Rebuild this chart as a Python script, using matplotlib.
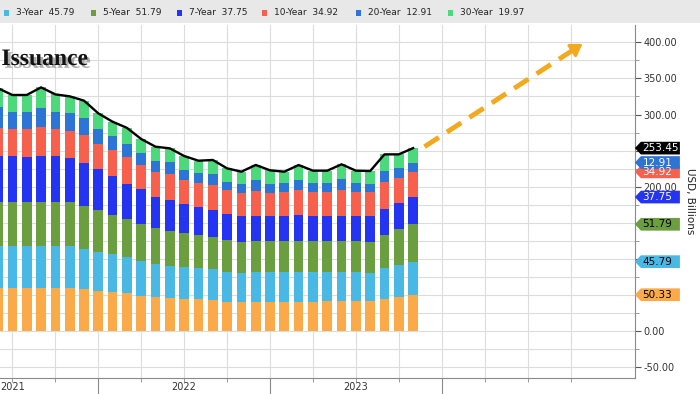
import matplotlib
matplotlib.use("Agg")
import matplotlib.pyplot as plt
import matplotlib.transforms as mtransforms
import matplotlib.patheffects as pe
from matplotlib.patches import Polygon, Rectangle
import numpy as np

# months counted from Jan 2021 (0); bars from Jun 2021 to Nov 2023
months = list(range(5, 35))

y2 = [60, 60, 60, 60, 60, 59.1, 57.7, 55.9, 53.6, 52.2, 48.5, 46.7, 46.2, 44.3, 43.9,
      43.0, 40.6, 40.6, 40.6, 40.6, 40.6, 40.6, 40.6, 41.6, 41.6, 41.6, 41.6, 43.9, 46.7, 50.33]
y3 = [58.2, 58.2, 58.2, 58.2, 58.2, 58.2, 55.9, 54.0, 53.1, 50.8, 49.0, 46.1, 44.3, 44.8, 43.9,
      42.5, 41.2, 40.2, 41.6, 40.7, 40.7, 40.7, 40.7, 40.6, 39.7, 39.7, 39.2, 42.9, 44.8, 45.79]
y5 = [61, 61, 61, 61, 61, 61, 59.6, 57.8, 54.0, 51.7, 50.8, 49.5, 48.5, 47.2, 45.2,
      44.3, 44.3, 43.0, 43.0, 43.0, 43.4, 43.4, 43.4, 43.0, 43.4, 43.4, 43.0, 46.2, 49.4, 51.79]
y7 = [62.8, 62.8, 62.0, 62.8, 62.8, 61.4, 59.1, 56.3, 54.1, 49.2, 48.0, 43.8, 42.6, 39.7, 38.4,
      37.9, 36.0, 35.6, 34.2, 35.6, 35.1, 35.6, 35.1, 34.6, 35.1, 35.1, 35.6, 35.6, 36.9, 37.75]
y10 = [38.8, 37.9, 38.8, 41.1, 37.9, 37.9, 39.3, 35.1, 36.0, 37.0, 33.7, 33.8, 36.0, 33.2, 34.1,
       34.6, 33.3, 32.3, 35.1, 31.4, 32.3, 35.1, 32.3, 33.3, 35.6, 32.3, 32.7, 38.3, 34.7, 34.92]
y20 = [29.1, 23.1, 23.1, 26.3, 23.1, 24.5, 23.1, 20.8, 19.9, 18.9, 16.2, 16.1, 17.0, 13.9, 13.0,
       15.3, 10.6, 11.5, 14.8, 12.9, 12.5, 13.8, 12.5, 11.5, 15.2, 12.5, 11.6, 15.3, 13.8, 12.91]
y30 = [26.4, 24.0, 24.0, 28.2, 24.9, 23.1, 24.5, 21.7, 19.3, 21.7, 19.8, 19.4, 18.5, 19.4, 17.5,
       19.4, 19.4, 17.6, 20.8, 18.5, 16.2, 20.8, 17.6, 17.6, 20.4, 17.6, 18.0, 22.6, 18.5, 19.97]
total_last = 253.45  # last value shown in the black tag

names = ["2-Year", "3-Year", "5-Year", "7-Year", "10-Year", "20-Year", "30-Year"]
series = [y2, y3, y5, y7, y10, y20, y30]
colors = ["#FBAA49", "#4AB8E4", "#6A9E3E", "#2434F0", "#F6604C", "#2C74D6", "#4CD97C"]
tag_text = ["black", "black", "black", "white", "white", "white", "white"]

year_labels = ["2021", "2022", "2023"]
year_mid = [6, 18, 30]
y_ticks = np.arange(-50, 401, 50)
hidden_ticks = [50, 100, 150, 250]  # covered by the value tags in the original

fig = plt.figure(figsize=(7, 3.94), dpi=100)
ax = fig.add_axes([0, 0.0406, 0.907, 0.937 - 0.0406])

x = np.array(months)
bottom = np.zeros(len(x))
for vals, c in zip(series, colors):
    ax.bar(x, vals, bottom=bottom, width=0.68, color=c, zorder=2)
    bottom += np.array(vals)
total = bottom
ax.plot(x, total, color="black", lw=1.7, zorder=3)

# dashed projection arrow
x0, yA = x[-1] + 0.8, total[-1] + 2
x1, yB = x[-1] + 12, 400
ax.plot([x0, x0 + (x1 - x0) * 0.93], [yA, yA + (yB - yA) * 0.93], color="#F2A91E",
        lw=3.5, ls=(0, (3.5, 2)), solid_capstyle="butt", zorder=4)
ax.annotate("", xy=(x1, yB), xytext=(x0 + (x1 - x0) * 0.9, yA + (yB - yA) * 0.9),
            arrowprops=dict(arrowstyle="-|>,head_length=0.7,head_width=0.45",
                            color="#F2A91E", lw=2), zorder=4)

# axes styling
for s in ["left", "top"]:
    ax.spines[s].set_visible(False)
ax.spines["right"].set_color("#8a8a8a")
ax.spines["bottom"].set_color("#8a8a8a")

ax.yaxis.tick_right()
ax.set_yticks(y_ticks)
ax.set_yticks(np.arange(-50, 426, 25), minor=True)
ax.set_yticklabels(["" if v in hidden_ticks else f"{v:.2f}" for v in y_ticks],
                   fontsize=7, color="#333333")
ax.tick_params(axis="y", which="major", length=4, color="#555555", pad=2)
ax.tick_params(axis="y", which="minor", length=3, color="#8a8a8a")

ax.set_xticks([12, 24, 36])
ax.set_xticks([q for q in range(3, 49, 3) if q % 12], minor=True)
ax.set_xticklabels([])
ax.tick_params(axis="x", which="major", length=12, color="#8a8a8a", width=0.8)
ax.tick_params(axis="x", which="minor", length=3, color="#8a8a8a")
ax.grid(True, which="both", color="#dcdcdc", lw=0.8, zorder=0)
ax.set_axisbelow(True)

ax.set_xlim(5.13, 49.5)
ax.set_ylim(-65.1, 424.3)

trans_x = mtransforms.blended_transform_factory(ax.transData, ax.transAxes)
for lab, xm in zip(year_labels, year_mid):
    ax.text(xm, -0.012, lab, transform=trans_x, ha="center", va="top", fontsize=7,
            color="#333333")

# value tags on the right axis
trans_y = mtransforms.blended_transform_factory(ax.transAxes, ax.transData)
cum = np.cumsum([s[-1] for s in series])
tag_w, tip, tag_h = 45 / 635, 6 / 635, 17.6


def tag(yc, text, fc, tc):
    pts = [(1.0, yc), (1.0 + tip, yc + tag_h / 2), (1.0 + tag_w, yc + tag_h / 2),
           (1.0 + tag_w, yc - tag_h / 2), (1.0 + tip, yc - tag_h / 2)]
    ax.add_patch(Polygon(pts, closed=True, transform=trans_y, fc=fc, ec="none",
                         clip_on=False, zorder=5))
    ax.text(1.0 + tip + 1.5 / 635, yc, text, transform=trans_y, ha="left", va="center",
            fontsize=7.5, color=tc, clip_on=False, zorder=6)


for i in range(len(series) - 1):
    tag(cum[i], f"{series[i][-1]:.2f}", colors[i], tag_text[i])
tag(total[-1], f"{total_last:.2f}", "black", "white")

fig.text(0.986, 0.49, "USD, Billions", rotation=270, ha="center", va="center",
         fontsize=7.5, color="#222222")

# legend band
fig.patches.append(Rectangle((0, 1 - 23 / 394), 1, 23 / 394, transform=fig.transFigure,
                             fc="#e8e8e8", ec="none", zorder=0))
leg_x = [4, 90.7, 177, 262, 356.5, 448.4]
for i, lx in enumerate(leg_x):
    k = i + 1
    fig.patches.append(Rectangle((lx / 700, 1 - 16 / 394), 5 / 700, 6.5 / 394,
                                 transform=fig.transFigure, fc=colors[k], ec="none"))
    fig.text((lx + 12) / 700, 1 - 12.7 / 394, f"{names[k]}  {series[k][-1]:.2f}",
             fontsize=6.5, va="center", color="#222222")

fig.text(0.002, 1 - 65 / 394, "Issuance", fontsize=17, fontweight="bold",
         family="Liberation Serif", va="baseline", color="#111111",
         path_effects=[pe.withSimplePatchShadow(offset=(2, -2), shadow_rgbFace="#777777",
                                                alpha=0.6)])

fig.savefig("out.png", dpi=100)
